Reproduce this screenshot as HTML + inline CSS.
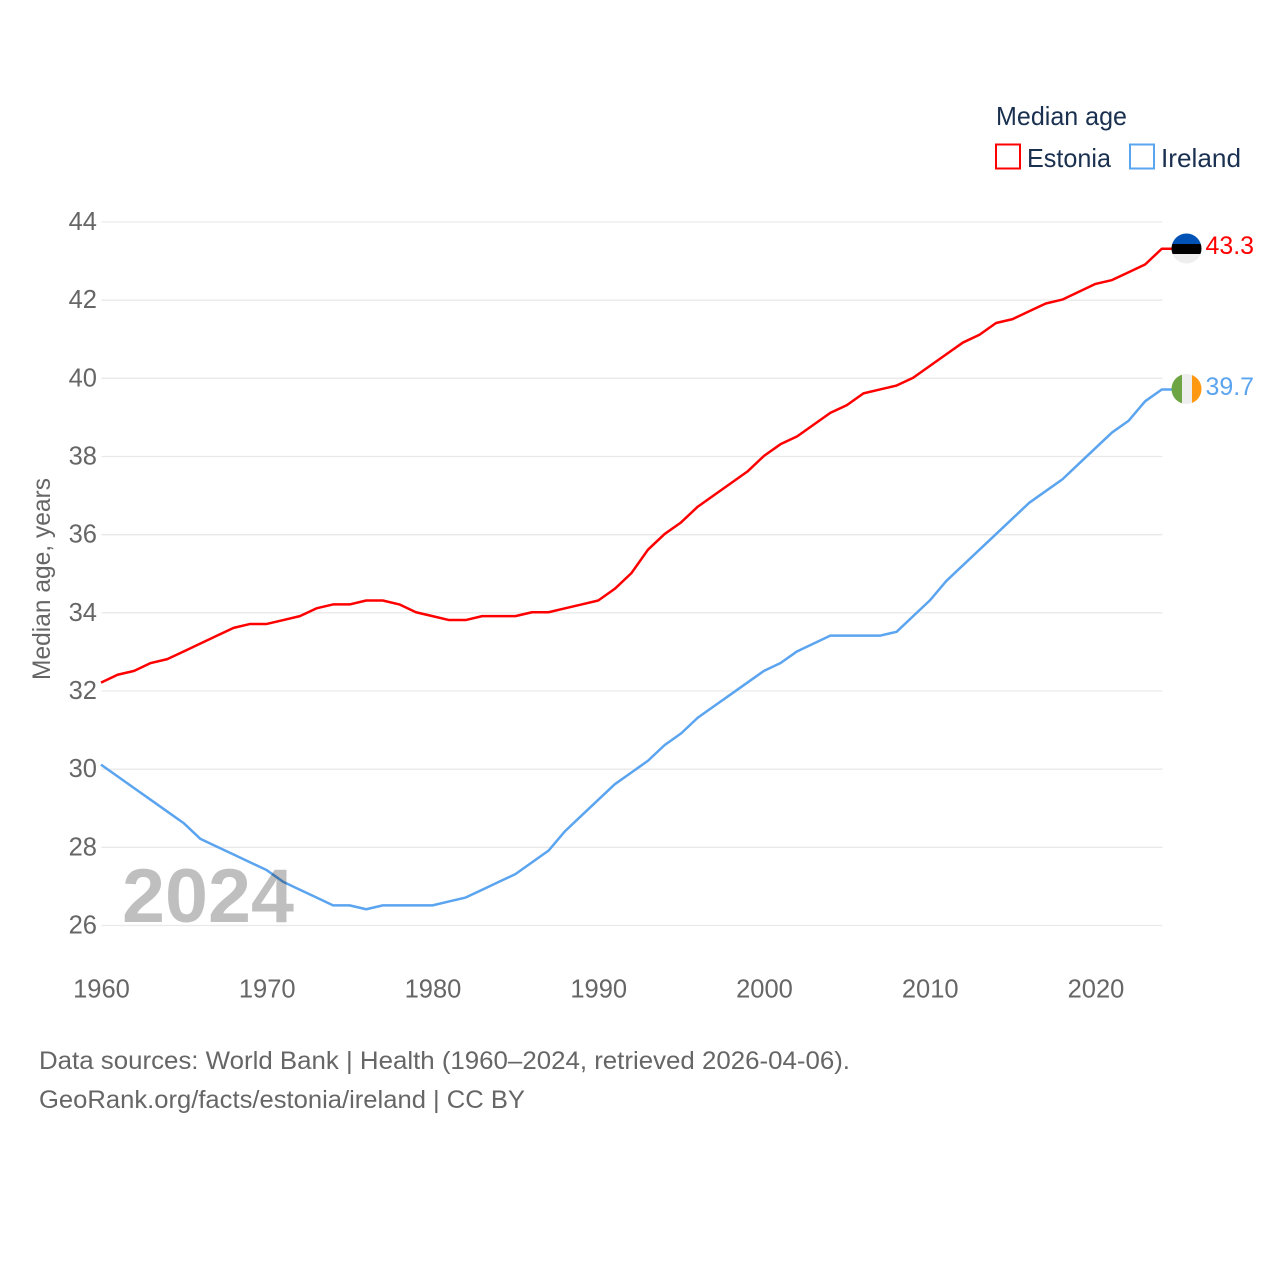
<!DOCTYPE html>
<html lang="en">
<head>
<meta charset="utf-8">
<title>Median age: Estonia and Ireland</title>
<style>
html,body{margin:0;padding:0;background:#fff}
svg{display:block}
text{font-family:"Liberation Sans",sans-serif}
</style>
</head>
<body>
<svg id="chart" width="1280" height="1280" viewBox="0 0 1280 1280" xmlns="http://www.w3.org/2000/svg">
  <rect width="1280" height="1280" fill="#fff"/>
  <g id="grid"></g>
  <g id="yticks"></g>
  <g id="xticks"></g>
  <text transform="translate(50,579) rotate(-90)" text-anchor="middle" font-size="25" fill="#666" textLength="202" lengthAdjust="spacingAndGlyphs">Median age, years</text>
  <g id="series" transform="translate(-0.5,-0.6)"></g>
  <text x="122" y="922" font-size="76" font-weight="700" fill="#000" fill-opacity="0.25" textLength="172" lengthAdjust="spacingAndGlyphs">2024</text>

  <g>
    <clipPath id="clip-ee"><circle cx="1186.5" cy="248.5" r="15"/></clipPath>
    <g clip-path="url(#clip-ee)">
      <rect x="1171" y="233" width="31" height="11" fill="#0052b4"/>
      <rect x="1171" y="244" width="31" height="10" fill="#000"/>
      <rect x="1171" y="254" width="31" height="11" fill="#eee"/>
    </g>
  </g>
  <g>
    <clipPath id="clip-ie"><circle cx="1186.5" cy="389" r="15"/></clipPath>
    <g clip-path="url(#clip-ie)">
      <rect x="1171" y="373" width="11" height="32" fill="#6da544"/>
      <rect x="1182" y="373" width="10" height="32" fill="#eee"/>
      <rect x="1192" y="373" width="11" height="32" fill="#ff9811"/>
    </g>
  </g>
  <text x="1205.5" y="254" font-size="25" fill="#f00" textLength="48.5" lengthAdjust="spacingAndGlyphs">43.3</text>
  <text x="1205.5" y="395" font-size="25" fill="#5ba4ef" textLength="48.5" lengthAdjust="spacingAndGlyphs">39.7</text>

  <g>
    <text x="996" y="125" font-size="26" fill="#1a3050" textLength="131" lengthAdjust="spacingAndGlyphs">Median age</text>
    <rect x="996" y="144.5" width="24" height="24" fill="none" stroke="#f00" stroke-width="2"/>
    <text x="1027" y="167" font-size="26" fill="#1a3050" textLength="84" lengthAdjust="spacingAndGlyphs">Estonia</text>
    <rect x="1130" y="144.5" width="24" height="24" fill="none" stroke="#5ba4ef" stroke-width="2"/>
    <text x="1161" y="167" font-size="26" fill="#1a3050" textLength="80" lengthAdjust="spacingAndGlyphs">Ireland</text>
  </g>

  <text x="39" y="1069" font-size="25" fill="#666" textLength="811" lengthAdjust="spacingAndGlyphs">Data sources: World Bank | Health (1960–2024, retrieved 2026-04-06).</text>
  <text x="39" y="1108" font-size="25" fill="#666" textLength="486" lengthAdjust="spacingAndGlyphs">GeoRank.org/facts/estonia/ireland | CC BY</text>
</svg>
<script>
var startYear = 1960;
var yTickValues = [26, 28, 30, 32, 34, 36, 38, 40, 42, 44];
var xTickValues = [1960, 1970, 1980, 1990, 2000, 2010, 2020];
var estoniaValues = [32.2,32.4,32.5,32.7,32.8,33.0,33.2,33.4,33.6,33.7,33.7,33.8,33.9,34.1,34.2,34.2,34.3,34.3,34.2,34.0,33.9,33.8,33.8,33.9,33.9,33.9,34.0,34.0,34.1,34.2,34.3,34.6,35.0,35.6,36.0,36.3,36.7,37.0,37.3,37.6,38.0,38.3,38.5,38.8,39.1,39.3,39.6,39.7,39.8,40.0,40.3,40.6,40.9,41.1,41.4,41.5,41.7,41.9,42.0,42.2,42.4,42.5,42.7,42.9,43.3];
var irelandValues = [30.1,29.8,29.5,29.2,28.9,28.6,28.2,28.0,27.8,27.6,27.4,27.1,26.9,26.7,26.5,26.5,26.4,26.5,26.5,26.5,26.5,26.6,26.7,26.9,27.1,27.3,27.6,27.9,28.4,28.8,29.2,29.6,29.9,30.2,30.6,30.9,31.3,31.6,31.9,32.2,32.5,32.7,33.0,33.2,33.4,33.4,33.4,33.4,33.5,33.9,34.3,34.8,35.2,35.6,36.0,36.4,36.8,37.1,37.4,37.8,38.2,38.6,38.9,39.4,39.7];

var NS = 'http://www.w3.org/2000/svg';
function xScale(year) { return 101.5 + (year - 1960) * (1096 - 101.5) / 60; }
function yScale(v) { return 925.5 - (v - 26) * (925.5 - 222) / 18; }

var gridG = document.getElementById('grid');
var yG = document.getElementById('yticks');
var xG = document.getElementById('xticks');
var seriesG = document.getElementById('series');

yTickValues.forEach(function (v) {
  var line = document.createElementNS(NS, 'line');
  
  
  line.setAttribute('x1', xScale(1960));
  line.setAttribute('x2', xScale(2024));
  line.setAttribute('y1', yScale(v));
  line.setAttribute('y2', yScale(v));
  line.setAttribute('stroke', '#e9e9e9');
  line.setAttribute('stroke-width', '1.3');
  gridG.appendChild(line);

  var label = document.createElementNS(NS, 'text');
  
  
  label.setAttribute('x', 97);
  label.setAttribute('y', yScale(v) + 8);
  label.setAttribute('text-anchor', 'end');
  label.setAttribute('font-size', '25.5');
  label.setAttribute('fill', '#666');
  label.textContent = v;
  yG.appendChild(label);
});

xTickValues.forEach(function (y) {
  var label = document.createElementNS(NS, 'text');
  
  
  label.setAttribute('x', xScale(y));
  label.setAttribute('y', 997.5);
  label.setAttribute('text-anchor', 'middle');
  label.setAttribute('font-size', '25.5');
  label.setAttribute('fill', '#666');
  label.textContent = y;
  xG.appendChild(label);
});

function drawSeries(values, color, name) {
  var pts = values.map(function (v, i) {
    return xScale(startYear + i).toFixed(2) + ',' + yScale(v).toFixed(2);
  });
  var last = values[values.length - 1];
  pts.push((xScale(startYear + values.length - 1) + 12).toFixed(2) + ',' + yScale(last).toFixed(2));
  var line = document.createElementNS(NS, 'polyline');
  
  
  line.setAttribute('points', pts.join(' '));
  line.setAttribute('fill', 'none');
  line.setAttribute('stroke', color);
  line.setAttribute('stroke-width', '2.5');
  line.setAttribute('stroke-linejoin', 'round');
  seriesG.appendChild(line);
}
drawSeries(estoniaValues, '#f00', 'line-estonia');
drawSeries(irelandValues, '#5ba4ef', 'line-ireland');
</script>
</body>
</html>
